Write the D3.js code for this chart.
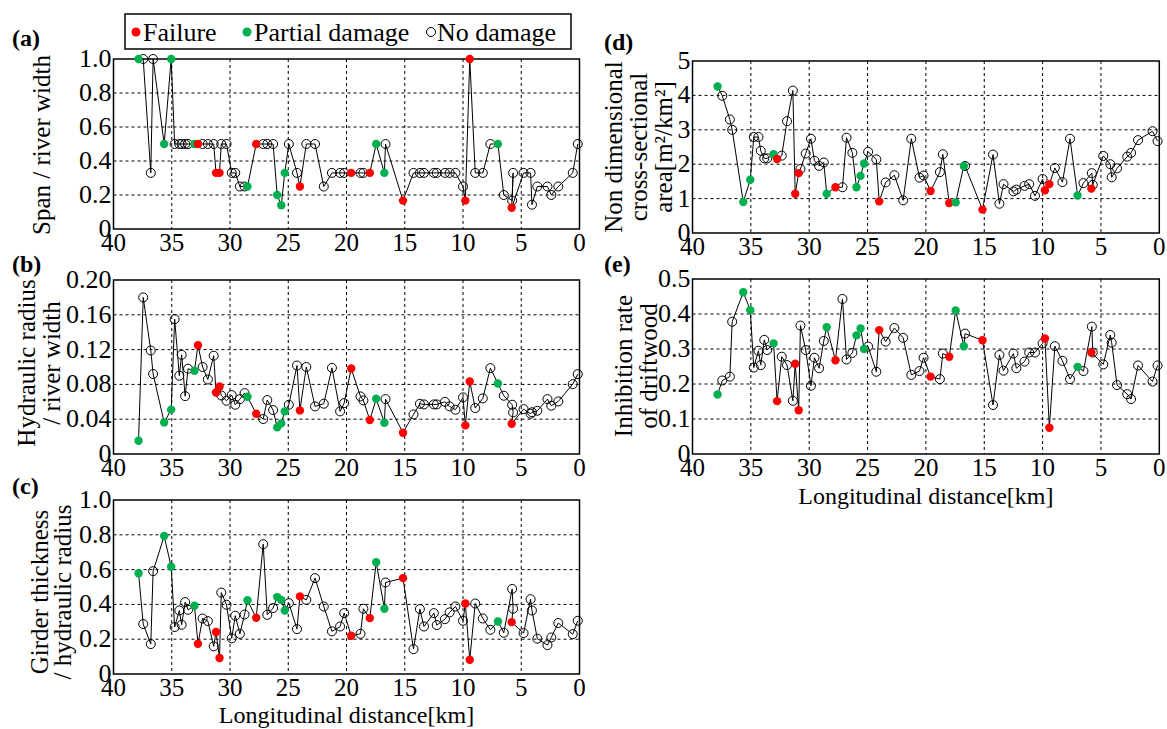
<!DOCTYPE html>
<html><head><meta charset="utf-8">
<script src="https://cdn.jsdelivr.net/npm/d3@7"></script>
<style>body{margin:0;background:#fff}svg text{font-family:"Liberation Serif","Times New Roman",serif;fill:#000}</style>
</head><body><svg id="c" width="1167" height="729" font-family="Liberation Serif, Times New Roman, serif"></svg>
<script>
// Shared bridge positions (longitudinal distance, km) and damage status
const distance = [37.85,37.45,36.8,36.6,35.65,35.05,34.75,34.35,34.15,33.85,33.6,33.05,32.75,32.35,31.9,31.4,31.2,30.9,30.75,30.3,29.85,29.55,29.15,28.75,28.5,27.75,27.15,26.8,26.3,25.95,25.6,25.3,24.95,24.25,24.0,23.45,22.7,21.95,21.25,20.55,20.2,19.6,18.8,18.55,18.0,17.45,16.75,16.65,15.15,14.25,13.7,13.35,12.5,12.25,11.55,11.15,10.65,10.0,9.8,9.42,8.95,8.3,7.65,7.0,6.5,5.78,5.7,5.82,4.8,4.2,4.08,3.62,2.75,2.42,1.82,0.58,0.15];
const status = ["P","N","N","N","P","P","N","N","N","N","N","P","F","N","N","N","F","F","N","N","N","N","N","N","P","F","N","N","N","P","P","P","N","N","F","N","N","N","N","N","N","F","N","N","F","P","P","N","F","N","N","N","N","N","N","N","N","N","F","F","N","N","N","P","N","N","N","F","N","N","N","N","N","N","N","N","N"];
const spanRatio = [1.0,1.0,0.33,1.0,0.5,1.0,0.5,0.5,0.5,0.5,0.5,0.5,0.5,0.5,0.5,0.5,0.33,0.33,0.5,0.5,0.33,0.33,0.25,0.25,0.25,0.5,0.5,0.5,0.5,0.2,0.14,0.33,0.5,0.33,0.25,0.5,0.5,0.25,0.33,0.33,0.33,0.33,0.33,0.33,0.33,0.5,0.33,0.5,0.167,0.33,0.33,0.33,0.33,0.33,0.33,0.33,0.33,0.25,0.167,1.0,0.33,0.33,0.5,0.5,0.2,0.167,0.33,0.125,0.33,0.33,0.143,0.25,0.25,0.2,0.25,0.33,0.5];
const hydRadius = [0.0153,0.180,0.119,0.092,0.0363,0.051,0.155,0.090,0.114,0.0665,0.098,0.0956,0.125,0.100,0.0857,0.113,0.0707,0.0776,0.0673,0.0612,0.0677,0.0566,0.0631,0.070,0.0658,0.0463,0.0402,0.062,0.0505,0.0306,0.0352,0.049,0.0566,0.1017,0.0501,0.100,0.0547,0.0578,0.099,0.049,0.0585,0.0983,0.0662,0.0616,0.039,0.0635,0.036,0.0631,0.0245,0.0455,0.0577,0.057,0.057,0.057,0.060,0.0547,0.0509,0.065,0.0329,0.0834,0.0528,0.0639,0.0987,0.081,0.067,0.0566,0.0478,0.0348,0.0516,0.0463,0.048,0.0497,0.0631,0.0555,0.0604,0.0803,0.0918];
const girderRatio = [0.579,0.287,0.172,0.591,0.793,0.616,0.27,0.365,0.283,0.413,0.369,0.392,0.174,0.319,0.304,0.159,0.241,0.092,0.468,0.398,0.205,0.335,0.231,0.342,0.424,0.323,0.746,0.340,0.379,0.442,0.426,0.365,0.407,0.258,0.446,0.426,0.551,0.388,0.245,0.273,0.35,0.22,0.231,0.375,0.321,0.642,0.375,0.526,0.551,0.143,0.373,0.273,0.35,0.281,0.315,0.354,0.388,0.306,0.405,0.082,0.405,0.319,0.254,0.302,0.237,0.489,0.375,0.298,0.235,0.43,0.365,0.203,0.166,0.21,0.293,0.229,0.306];
const crossArea = [4.26,3.99,3.30,3.0,0.90,1.55,2.79,2.79,2.39,2.17,2.17,2.29,2.15,2.25,3.25,4.14,1.14,1.74,1.86,2.31,2.74,2.10,1.95,2.05,1.14,1.33,1.33,2.77,2.33,1.33,1.66,2.02,2.36,2.14,0.92,1.47,1.68,0.95,2.74,1.61,1.67,1.22,1.77,2.29,0.87,0.89,1.95,1.95,0.68,2.28,0.85,1.42,1.21,1.26,1.37,1.42,1.08,1.57,1.24,1.42,1.89,1.48,2.74,1.09,1.45,1.74,1.40,1.29,2.24,2.0,1.62,1.88,2.22,2.33,2.70,2.96,2.67];
const inhibition = [0.170,0.210,0.221,0.378,0.462,0.411,0.247,0.295,0.254,0.326,0.297,0.316,0.151,0.278,0.254,0.152,0.258,0.125,0.367,0.297,0.195,0.275,0.245,0.323,0.362,0.268,0.443,0.27,0.289,0.339,0.359,0.30,0.307,0.235,0.354,0.321,0.36,0.332,0.226,0.237,0.275,0.221,0.214,0.287,0.278,0.41,0.308,0.344,0.325,0.14,0.283,0.238,0.287,0.245,0.264,0.29,0.29,0.316,0.33,0.075,0.308,0.266,0.214,0.249,0.237,0.364,0.29,0.29,0.256,0.34,0.318,0.197,0.171,0.157,0.253,0.207,0.253];

const xTicks = [40,35,30,25,20,15,10,5,0];
const ticksA = [0,0.2,0.4,0.6,0.8,1.0], labelsA = ["0","0.2","0.4","0.6","0.8","1.0"];
const ticksB = [0,0.04,0.08,0.12,0.16,0.20], labelsB = ["0","0.04","0.08","0.12","0.16","0.20"];
const ticksC = [0,0.2,0.4,0.6,0.8,1.0], labelsC = ["0","0.2","0.4","0.6","0.8","1.0"];
const ticksD = [0,1,2,3,4,5], labelsD = ["0","1","2","3","4","5"];
const ticksE = [0,0.1,0.2,0.3,0.4,0.5], labelsE = ["0","0.1","0.2","0.3","0.4","0.5"];
const statusNames = ["Failure","Partial damage","No damage"];
const colors = {F:"#ff0000", P:"#00b050"};

const svg = d3.select("#c");
const panels = [
  {tag:"(a)", vals:spanRatio, ticks:ticksA, labels:labelsA, max:1.0, x0:113.5,x1:579.5,y0:59,y1:229, title:["Span / river width"], tx:[50], ty:145, tagPos:[12,46], xt:0},
  {tag:"(b)", vals:hydRadius, ticks:ticksB, labels:labelsB, max:0.20, x0:113.5,x1:579.5,y0:280,y1:454, title:["Hydraulic radius","/ river width"], tx:[35,60], ty:363, tagPos:[12,272], xt:0},
  {tag:"(c)", vals:girderRatio, ticks:ticksC, labels:labelsC, max:1.0, x0:113.5,x1:579.5,y0:500,y1:674, title:["Girder thickness","/ hydraulic radius"], tx:[48,71], ty:592, tagPos:[12,494], xt:49},
  {tag:"(d)", vals:crossArea, ticks:ticksD, labels:labelsD, max:5, x0:692.5,x1:1159.3,y0:61,y1:233, title:["Non dimensional","cross-sectional","area[m²/km²]"], tx:[622,647,672], ty:147, tagPos:[604,50], xt:0},
  {tag:"(e)", vals:inhibition, ticks:ticksE, labels:labelsE, max:0.5, x0:692.5,x1:1159.3,y0:279,y1:454, title:["Inhibition rate","of driftwood"], tx:[632,657], ty:366, tagPos:[604,272], xt:50}
];

panels.forEach(p => {
  const x = d3.scaleLinear().domain([40,0]).range([p.x0,p.x1]);
  const y = d3.scaleLinear().domain([0,p.max]).range([p.y1,p.y0]);
  const g = svg.append("g");
  // grid
  g.selectAll(".vg").data(xTicks.filter(t=>t!==40 && t!==0)).enter().append("line")
    .attr("x1",d=>x(d)).attr("x2",d=>x(d)).attr("y1",p.y0).attr("y2",p.y1)
    .attr("stroke","#000").attr("stroke-width",1).attr("stroke-dasharray","3,3");
  g.selectAll(".hg").data(p.ticks.slice(1,-1)).enter().append("line")
    .attr("y1",d=>y(d)).attr("y2",d=>y(d)).attr("x1",p.x0).attr("x2",p.x1)
    .attr("stroke","#000").attr("stroke-width",1).attr("stroke-dasharray","3,3");
  g.append("rect").attr("x",p.x0).attr("y",p.y0).attr("width",p.x1-p.x0).attr("height",p.y1-p.y0)
    .attr("fill","none").attr("stroke","#000").attr("stroke-width",1.5);
  // tick labels
  g.selectAll(".yl").data(p.ticks).enter().append("text")
    .attr("x",p.x0-2).attr("y",d=>y(d)+8).attr("text-anchor","end").attr("font-size",26)
    .text((d,i)=>p.labels[i]);
  g.selectAll(".xl").data(xTicks).enter().append("text")
    .attr("x",d=>x(d)).attr("y",p.y1+22).attr("text-anchor","middle").attr("font-size",25)
    .text(d=>d);
  // titles
  p.title.forEach((t,i)=>{
    g.append("text").attr("transform",`translate(${p.tx[i]},${p.ty}) rotate(-90)`)
      .attr("text-anchor","middle").attr("font-size",25).text(t);
  });
  if (p.xt) g.append("text").attr("x",(p.x0+p.x1)/2).attr("y",p.y1+p.xt)
      .attr("text-anchor","middle").attr("font-size",24).text("Longitudinal distance[km]");
  g.append("text").attr("x",p.tagPos[0]).attr("y",p.tagPos[1]).attr("font-size",24)
    .attr("font-weight","bold").text(p.tag);
  // data
  const pts = distance.map((d,i)=>({d, v:p.vals[i], s:status[i]}));
  g.append("path").datum(pts).attr("fill","none").attr("stroke","#000").attr("stroke-width",1)
    .attr("d", d3.line().x(q=>x(q.d)).y(q=>y(q.v)));
  g.selectAll(".o").data(pts.filter(q=>q.s==="N")).enter().append("circle")
    .attr("cx",q=>x(q.d)).attr("cy",q=>y(q.v)).attr("r",4.5)
    .attr("fill","none").attr("stroke","#000").attr("stroke-width",1);
  g.selectAll(".f").data(pts.filter(q=>q.s!=="N")).enter().append("circle")
    .attr("cx",q=>x(q.d)).attr("cy",q=>y(q.v)).attr("r",4.2)
    .attr("fill",q=>colors[q.s]);
});

// legend
const lg = svg.append("g");
lg.append("rect").attr("x",125).attr("y",14).attr("width",446).attr("height",35)
  .attr("fill","#fff").attr("stroke","#000").attr("stroke-width",1.5);
const legItems = [{s:"F",cx:136,tx:143},{s:"P",cx:247,tx:254},{s:"N",cx:431,tx:437}];
legItems.forEach((it,i)=>{
  lg.append("circle").attr("cx",it.cx).attr("cy",32).attr("r",4.5)
    .attr("fill", it.s==="N" ? "none" : colors[it.s]).attr("stroke", it.s==="N" ? "#000" : "none");
  lg.append("text").attr("x",it.tx).attr("y",41).attr("font-size",26).text(statusNames[i]);
});
</script></body></html>
